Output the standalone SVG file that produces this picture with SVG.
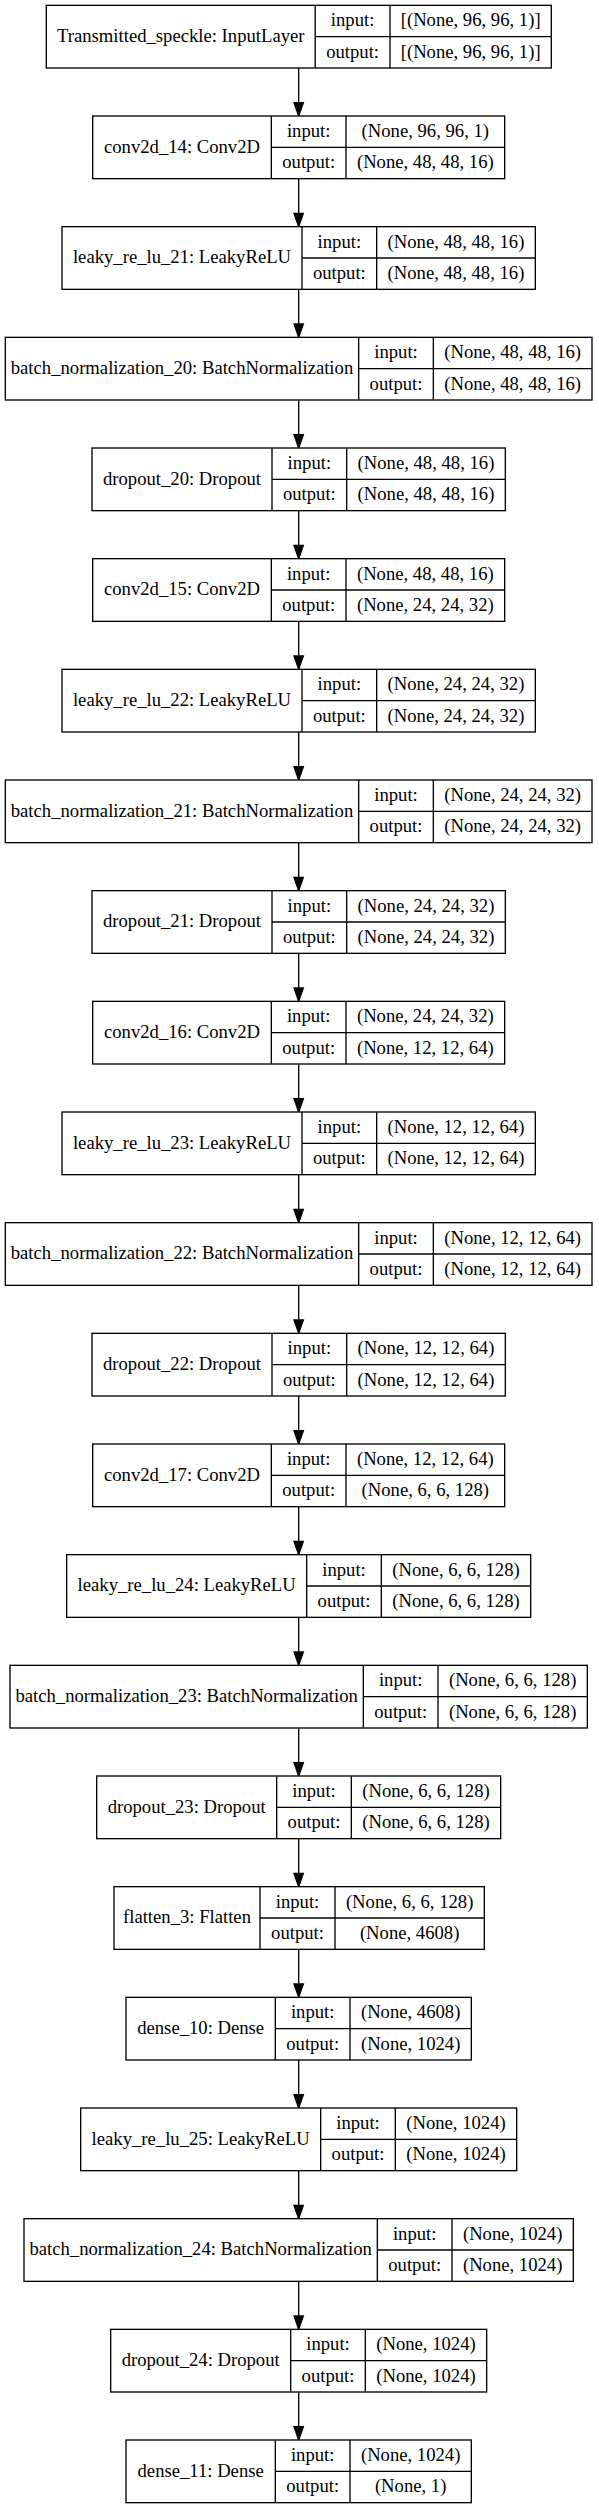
<svg xmlns="http://www.w3.org/2000/svg" width="599" height="2508" viewBox="0 0 599 2508">
<style>
rect{fill:#fff;stroke:#000;stroke-width:1.33}
line{stroke:#000;stroke-width:1.33}
.e{fill:none;stroke:#000;stroke-width:1.33}
text{font-family:"Liberation Serif","Times New Roman",serif;font-size:18.67px;text-anchor:middle;fill:#000}
</style>
<defs>
<marker id="ah" markerUnits="userSpaceOnUse" markerWidth="16" markerHeight="12" refX="0" refY="0" orient="auto" overflow="visible">
<path d="M0,-4.67 L13.33,0 L0,4.67 Z" fill="#000" stroke="#000" stroke-width="1.33"/>
</marker>
</defs>
<rect x="0" y="0" width="599" height="2508" style="stroke:none;fill:#fff"/>
<g id="connectors">
<path class="e" marker-end="url(#ah)" d="M298.67,68 V102.67"/>
<path class="e" marker-end="url(#ah)" d="M298.67,178.67 V213.33"/>
<path class="e" marker-end="url(#ah)" d="M298.67,289.33 V324"/>
<path class="e" marker-end="url(#ah)" d="M298.67,400 V434.67"/>
<path class="e" marker-end="url(#ah)" d="M298.67,510.67 V545.33"/>
<path class="e" marker-end="url(#ah)" d="M298.67,621.33 V656"/>
<path class="e" marker-end="url(#ah)" d="M298.67,732 V766.67"/>
<path class="e" marker-end="url(#ah)" d="M298.67,842.67 V877.33"/>
<path class="e" marker-end="url(#ah)" d="M298.67,953.33 V988"/>
<path class="e" marker-end="url(#ah)" d="M298.67,1064 V1098.67"/>
<path class="e" marker-end="url(#ah)" d="M298.67,1174.67 V1209.33"/>
<path class="e" marker-end="url(#ah)" d="M298.67,1285.33 V1320"/>
<path class="e" marker-end="url(#ah)" d="M298.67,1396 V1430.67"/>
<path class="e" marker-end="url(#ah)" d="M298.67,1506.67 V1541.33"/>
<path class="e" marker-end="url(#ah)" d="M298.67,1617.33 V1652"/>
<path class="e" marker-end="url(#ah)" d="M298.67,1728 V1762.67"/>
<path class="e" marker-end="url(#ah)" d="M298.67,1838.67 V1873.33"/>
<path class="e" marker-end="url(#ah)" d="M298.67,1949.33 V1984"/>
<path class="e" marker-end="url(#ah)" d="M298.67,2060 V2094.67"/>
<path class="e" marker-end="url(#ah)" d="M298.67,2170.67 V2205.33"/>
<path class="e" marker-end="url(#ah)" d="M298.67,2281.33 V2316"/>
<path class="e" marker-end="url(#ah)" d="M298.67,2392 V2426.67"/>
</g>
<g id="n0" transform="translate(0,5.33)">
<rect x="46.3" y="0" width="505" height="62.67"/>
<line x1="315.2" y1="0" x2="315.2" y2="62.67"/><line x1="390" y1="0" x2="390" y2="62.67"/><line x1="315.2" y1="31.33" x2="551.3" y2="31.33"/>
<text x="180.75" y="36.63">Transmitted_speckle: InputLayer</text>
<text x="352.6" y="20.97">input:</text><text x="352.6" y="52.3">output:</text>
<text x="470.65" y="20.97">[(None, 96, 96, 1)]</text><text x="470.65" y="52.3">[(None, 96, 96, 1)]</text>
</g>
<g id="n1" transform="translate(0,116)">
<rect x="92.67" y="0" width="412" height="62.67"/>
<line x1="271.33" y1="0" x2="271.33" y2="62.67"/><line x1="346" y1="0" x2="346" y2="62.67"/><line x1="271.33" y1="31.33" x2="504.67" y2="31.33"/>
<text x="182" y="36.63">conv2d_14: Conv2D</text>
<text x="308.67" y="20.97">input:</text><text x="308.67" y="52.3">output:</text>
<text x="425.33" y="20.97">(None, 96, 96, 1)</text><text x="425.33" y="52.3">(None, 48, 48, 16)</text>
</g>
<g id="n2" transform="translate(0,226.67)">
<rect x="62" y="0" width="473.33" height="62.67"/>
<line x1="302" y1="0" x2="302" y2="62.67"/><line x1="376.67" y1="0" x2="376.67" y2="62.67"/><line x1="302" y1="31.33" x2="535.33" y2="31.33"/>
<text x="182" y="36.63">leaky_re_lu_21: LeakyReLU</text>
<text x="339.33" y="20.97">input:</text><text x="339.33" y="52.3">output:</text>
<text x="456" y="20.97">(None, 48, 48, 16)</text><text x="456" y="52.3">(None, 48, 48, 16)</text>
</g>
<g id="n3" transform="translate(0,337.33)">
<rect x="5.33" y="0" width="586.67" height="62.67"/>
<line x1="358.67" y1="0" x2="358.67" y2="62.67"/><line x1="433.33" y1="0" x2="433.33" y2="62.67"/><line x1="358.67" y1="31.33" x2="592" y2="31.33"/>
<text x="182" y="36.63">batch_normalization_20: BatchNormalization</text>
<text x="396" y="20.97">input:</text><text x="396" y="52.3">output:</text>
<text x="512.67" y="20.97">(None, 48, 48, 16)</text><text x="512.67" y="52.3">(None, 48, 48, 16)</text>
</g>
<g id="n4" transform="translate(0,448)">
<rect x="92" y="0" width="413.33" height="62.67"/>
<line x1="272" y1="0" x2="272" y2="62.67"/><line x1="346.67" y1="0" x2="346.67" y2="62.67"/><line x1="272" y1="31.33" x2="505.33" y2="31.33"/>
<text x="182" y="36.63">dropout_20: Dropout</text>
<text x="309.33" y="20.97">input:</text><text x="309.33" y="52.3">output:</text>
<text x="426" y="20.97">(None, 48, 48, 16)</text><text x="426" y="52.3">(None, 48, 48, 16)</text>
</g>
<g id="n5" transform="translate(0,558.67)">
<rect x="92.67" y="0" width="412" height="62.67"/>
<line x1="271.33" y1="0" x2="271.33" y2="62.67"/><line x1="346" y1="0" x2="346" y2="62.67"/><line x1="271.33" y1="31.33" x2="504.67" y2="31.33"/>
<text x="182" y="36.63">conv2d_15: Conv2D</text>
<text x="308.67" y="20.97">input:</text><text x="308.67" y="52.3">output:</text>
<text x="425.33" y="20.97">(None, 48, 48, 16)</text><text x="425.33" y="52.3">(None, 24, 24, 32)</text>
</g>
<g id="n6" transform="translate(0,669.33)">
<rect x="62" y="0" width="473.33" height="62.67"/>
<line x1="302" y1="0" x2="302" y2="62.67"/><line x1="376.67" y1="0" x2="376.67" y2="62.67"/><line x1="302" y1="31.33" x2="535.33" y2="31.33"/>
<text x="182" y="36.63">leaky_re_lu_22: LeakyReLU</text>
<text x="339.33" y="20.97">input:</text><text x="339.33" y="52.3">output:</text>
<text x="456" y="20.97">(None, 24, 24, 32)</text><text x="456" y="52.3">(None, 24, 24, 32)</text>
</g>
<g id="n7" transform="translate(0,780)">
<rect x="5.33" y="0" width="586.67" height="62.67"/>
<line x1="358.67" y1="0" x2="358.67" y2="62.67"/><line x1="433.33" y1="0" x2="433.33" y2="62.67"/><line x1="358.67" y1="31.33" x2="592" y2="31.33"/>
<text x="182" y="36.63">batch_normalization_21: BatchNormalization</text>
<text x="396" y="20.97">input:</text><text x="396" y="52.3">output:</text>
<text x="512.67" y="20.97">(None, 24, 24, 32)</text><text x="512.67" y="52.3">(None, 24, 24, 32)</text>
</g>
<g id="n8" transform="translate(0,890.67)">
<rect x="92" y="0" width="413.33" height="62.67"/>
<line x1="272" y1="0" x2="272" y2="62.67"/><line x1="346.67" y1="0" x2="346.67" y2="62.67"/><line x1="272" y1="31.33" x2="505.33" y2="31.33"/>
<text x="182" y="36.63">dropout_21: Dropout</text>
<text x="309.33" y="20.97">input:</text><text x="309.33" y="52.3">output:</text>
<text x="426" y="20.97">(None, 24, 24, 32)</text><text x="426" y="52.3">(None, 24, 24, 32)</text>
</g>
<g id="n9" transform="translate(0,1001.33)">
<rect x="92.67" y="0" width="412" height="62.67"/>
<line x1="271.33" y1="0" x2="271.33" y2="62.67"/><line x1="346" y1="0" x2="346" y2="62.67"/><line x1="271.33" y1="31.33" x2="504.67" y2="31.33"/>
<text x="182" y="36.63">conv2d_16: Conv2D</text>
<text x="308.67" y="20.97">input:</text><text x="308.67" y="52.3">output:</text>
<text x="425.33" y="20.97">(None, 24, 24, 32)</text><text x="425.33" y="52.3">(None, 12, 12, 64)</text>
</g>
<g id="n10" transform="translate(0,1112)">
<rect x="62" y="0" width="473.33" height="62.67"/>
<line x1="302" y1="0" x2="302" y2="62.67"/><line x1="376.67" y1="0" x2="376.67" y2="62.67"/><line x1="302" y1="31.33" x2="535.33" y2="31.33"/>
<text x="182" y="36.63">leaky_re_lu_23: LeakyReLU</text>
<text x="339.33" y="20.97">input:</text><text x="339.33" y="52.3">output:</text>
<text x="456" y="20.97">(None, 12, 12, 64)</text><text x="456" y="52.3">(None, 12, 12, 64)</text>
</g>
<g id="n11" transform="translate(0,1222.67)">
<rect x="5.33" y="0" width="586.67" height="62.67"/>
<line x1="358.67" y1="0" x2="358.67" y2="62.67"/><line x1="433.33" y1="0" x2="433.33" y2="62.67"/><line x1="358.67" y1="31.33" x2="592" y2="31.33"/>
<text x="182" y="36.63">batch_normalization_22: BatchNormalization</text>
<text x="396" y="20.97">input:</text><text x="396" y="52.3">output:</text>
<text x="512.67" y="20.97">(None, 12, 12, 64)</text><text x="512.67" y="52.3">(None, 12, 12, 64)</text>
</g>
<g id="n12" transform="translate(0,1333.33)">
<rect x="92" y="0" width="413.33" height="62.67"/>
<line x1="272" y1="0" x2="272" y2="62.67"/><line x1="346.67" y1="0" x2="346.67" y2="62.67"/><line x1="272" y1="31.33" x2="505.33" y2="31.33"/>
<text x="182" y="36.63">dropout_22: Dropout</text>
<text x="309.33" y="20.97">input:</text><text x="309.33" y="52.3">output:</text>
<text x="426" y="20.97">(None, 12, 12, 64)</text><text x="426" y="52.3">(None, 12, 12, 64)</text>
</g>
<g id="n13" transform="translate(0,1444)">
<rect x="92.67" y="0" width="412" height="62.67"/>
<line x1="271.33" y1="0" x2="271.33" y2="62.67"/><line x1="346" y1="0" x2="346" y2="62.67"/><line x1="271.33" y1="31.33" x2="504.67" y2="31.33"/>
<text x="182" y="36.63">conv2d_17: Conv2D</text>
<text x="308.67" y="20.97">input:</text><text x="308.67" y="52.3">output:</text>
<text x="425.33" y="20.97">(None, 12, 12, 64)</text><text x="425.33" y="52.3">(None, 6, 6, 128)</text>
</g>
<g id="n14" transform="translate(0,1554.67)">
<rect x="66.67" y="0" width="464" height="62.67"/>
<line x1="306.67" y1="0" x2="306.67" y2="62.67"/><line x1="381.33" y1="0" x2="381.33" y2="62.67"/><line x1="306.67" y1="31.33" x2="530.67" y2="31.33"/>
<text x="186.67" y="36.63">leaky_re_lu_24: LeakyReLU</text>
<text x="344" y="20.97">input:</text><text x="344" y="52.3">output:</text>
<text x="456" y="20.97">(None, 6, 6, 128)</text><text x="456" y="52.3">(None, 6, 6, 128)</text>
</g>
<g id="n15" transform="translate(0,1665.33)">
<rect x="10" y="0" width="577.33" height="62.67"/>
<line x1="363.33" y1="0" x2="363.33" y2="62.67"/><line x1="438" y1="0" x2="438" y2="62.67"/><line x1="363.33" y1="31.33" x2="587.33" y2="31.33"/>
<text x="186.67" y="36.63">batch_normalization_23: BatchNormalization</text>
<text x="400.67" y="20.97">input:</text><text x="400.67" y="52.3">output:</text>
<text x="512.67" y="20.97">(None, 6, 6, 128)</text><text x="512.67" y="52.3">(None, 6, 6, 128)</text>
</g>
<g id="n16" transform="translate(0,1776)">
<rect x="96.67" y="0" width="404" height="62.67"/>
<line x1="276.67" y1="0" x2="276.67" y2="62.67"/><line x1="351.33" y1="0" x2="351.33" y2="62.67"/><line x1="276.67" y1="31.33" x2="500.67" y2="31.33"/>
<text x="186.67" y="36.63">dropout_23: Dropout</text>
<text x="314" y="20.97">input:</text><text x="314" y="52.3">output:</text>
<text x="426" y="20.97">(None, 6, 6, 128)</text><text x="426" y="52.3">(None, 6, 6, 128)</text>
</g>
<g id="n17" transform="translate(0,1886.67)">
<rect x="114" y="0" width="370.3" height="62.67"/>
<line x1="260" y1="0" x2="260" y2="62.67"/><line x1="335" y1="0" x2="335" y2="62.67"/><line x1="260" y1="31.33" x2="484.3" y2="31.33"/>
<text x="187" y="36.63">flatten_3: Flatten</text>
<text x="297.5" y="20.97">input:</text><text x="297.5" y="52.3">output:</text>
<text x="409.65" y="20.97">(None, 6, 6, 128)</text><text x="409.65" y="52.3">(None, 4608)</text>
</g>
<g id="n18" transform="translate(0,1997.33)">
<rect x="126" y="0" width="345.33" height="62.67"/>
<line x1="275.33" y1="0" x2="275.33" y2="62.67"/><line x1="350" y1="0" x2="350" y2="62.67"/><line x1="275.33" y1="31.33" x2="471.33" y2="31.33"/>
<text x="200.67" y="36.63">dense_10: Dense</text>
<text x="312.67" y="20.97">input:</text><text x="312.67" y="52.3">output:</text>
<text x="410.67" y="20.97">(None, 4608)</text><text x="410.67" y="52.3">(None, 1024)</text>
</g>
<g id="n19" transform="translate(0,2108)">
<rect x="80.67" y="0" width="436" height="62.67"/>
<line x1="320.67" y1="0" x2="320.67" y2="62.67"/><line x1="395.33" y1="0" x2="395.33" y2="62.67"/><line x1="320.67" y1="31.33" x2="516.67" y2="31.33"/>
<text x="200.67" y="36.63">leaky_re_lu_25: LeakyReLU</text>
<text x="358" y="20.97">input:</text><text x="358" y="52.3">output:</text>
<text x="456" y="20.97">(None, 1024)</text><text x="456" y="52.3">(None, 1024)</text>
</g>
<g id="n20" transform="translate(0,2218.67)">
<rect x="24" y="0" width="549.33" height="62.67"/>
<line x1="377.33" y1="0" x2="377.33" y2="62.67"/><line x1="452" y1="0" x2="452" y2="62.67"/><line x1="377.33" y1="31.33" x2="573.33" y2="31.33"/>
<text x="200.67" y="36.63">batch_normalization_24: BatchNormalization</text>
<text x="414.67" y="20.97">input:</text><text x="414.67" y="52.3">output:</text>
<text x="512.67" y="20.97">(None, 1024)</text><text x="512.67" y="52.3">(None, 1024)</text>
</g>
<g id="n21" transform="translate(0,2329.33)">
<rect x="110.67" y="0" width="376" height="62.67"/>
<line x1="290.67" y1="0" x2="290.67" y2="62.67"/><line x1="365.33" y1="0" x2="365.33" y2="62.67"/><line x1="290.67" y1="31.33" x2="486.67" y2="31.33"/>
<text x="200.67" y="36.63">dropout_24: Dropout</text>
<text x="328" y="20.97">input:</text><text x="328" y="52.3">output:</text>
<text x="426" y="20.97">(None, 1024)</text><text x="426" y="52.3">(None, 1024)</text>
</g>
<g id="n22" transform="translate(0,2440)">
<rect x="126" y="0" width="345.33" height="62.67"/>
<line x1="275.33" y1="0" x2="275.33" y2="62.67"/><line x1="350" y1="0" x2="350" y2="62.67"/><line x1="275.33" y1="31.33" x2="471.33" y2="31.33"/>
<text x="200.67" y="36.63">dense_11: Dense</text>
<text x="312.67" y="20.97">input:</text><text x="312.67" y="52.3">output:</text>
<text x="410.67" y="20.97">(None, 1024)</text><text x="410.67" y="52.3">(None, 1)</text>
</g>
</svg>
